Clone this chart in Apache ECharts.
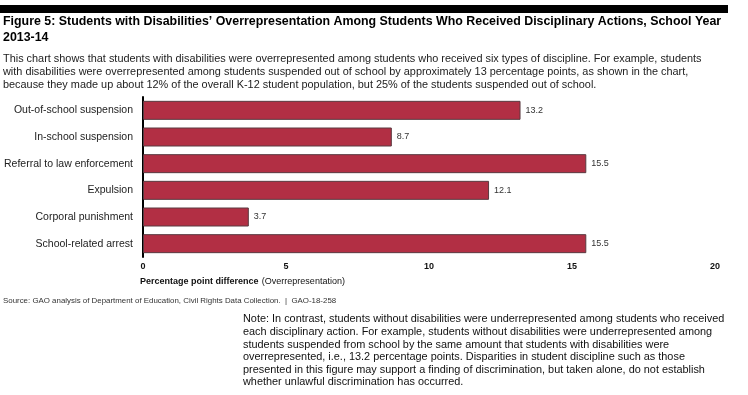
<!DOCTYPE html>
<html><head><meta charset="utf-8">
<script src="https://cdn.jsdelivr.net/npm/echarts@6/dist/echarts.min.js"></script>
<style>html,body{margin:0;padding:0;background:#fff}#c{width:748px;height:395px}</style>
</head><body><div id="c"></div>
<script>
const categories = ["Out-of-school suspension","In-school suspension","Referral to law enforcement","Expulsion","Corporal punishment","School-related arrest"];
const values = [13.2, 8.7, 15.5, 12.1, 3.7, 15.5];
const xTicks = [0, 5, 10, 15, 20];

const titleLines = "Figure 5: Students with Disabilities\u2019 Overrepresentation Among Students Who Received Disciplinary Actions, School Year\n2013-14";
const descText = "This chart shows that students with disabilities were overrepresented among students who received six types of discipline. For example, students\nwith disabilities were overrepresented among students suspended out of school by approximately 13 percentage points, as shown in the chart,\nbecause they made up about 12% of the overall K-12 student population, but 25% of the students suspended out of school.";
const sourceText = "Source: GAO analysis of Department of Education, Civil Rights Data Collection.  |  GAO-18-258";
const noteText = "Note: In contrast, students without disabilities were underrepresented among students who received\neach disciplinary action. For example, students without disabilities were underrepresented among\nstudents suspended from school by the same amount that students with disabilities were\noverrepresented, i.e., 13.2 percentage points. Disparities in student discipline such as those\npresented in this figure may support a finding of discrimination, but taken alone, do not establish\nwhether unlawful discrimination has occurred.";

const F = "Liberation Sans, Arial, sans-serif";
const chart = echarts.init(document.getElementById('c'), null, {renderer:'canvas'});
chart.setOption({
  animation:false,
  textStyle:{fontFamily:F},
  grid:{left:143, right:33, top:97, height:160, containLabel:false, outerBoundsMode:'none'},
  xAxis:{type:'value', min:xTicks[0], max:xTicks[xTicks.length-1], interval:5,
    axisLine:{show:false}, axisTick:{show:false}, splitLine:{show:false},
    axisLabel:{fontSize:9, fontWeight:'bold', color:'#111', margin:5, fontFamily:F}},
  yAxis:{type:'category', data:categories, inverse:true,
    axisLine:{show:true, lineStyle:{color:'#000', width:2}}, axisTick:{show:false},
    axisLabel:{fontSize:10.5, color:'#222', margin:10, fontFamily:F}},
  series:[{type:'bar', data:values, barWidth:19,
    itemStyle:{color:'#b22f44', borderColor:'#5a3a40', borderWidth:1},
    label:{show:true, position:'right', distance:5, fontSize:9, color:'#333', fontFamily:F, formatter:p=>p.value.toFixed(1)}}],
  graphic:[
    {type:'rect', shape:{x:0,y:5,width:728,height:8}, style:{fill:'#000'}},
    {type:'text', left:3, top:14, style:{text:titleLines, font:'bold 12.4px '+F, fill:'#000', lineHeight:16}},
    {type:'text', left:3, top:52, style:{text:descText, font:'10.9px '+F, fill:'#222', lineHeight:13}},
    {type:'text', left:140, top:276, style:{rich:{b:{font:'bold 9px '+F, fill:'#111'}, n:{font:'9px '+F, fill:'#111'}}, text:'{b|Percentage point difference} {n|(Overrepresentation)}'}},
    {type:'text', left:3, top:297, style:{text:sourceText, font:'7.9px '+F, fill:'#333'}},
    {type:'text', left:243, top:313, style:{text:noteText, font:'10.9px '+F, fill:'#111', lineHeight:12.6}}
  ]
});
</script></body></html>
